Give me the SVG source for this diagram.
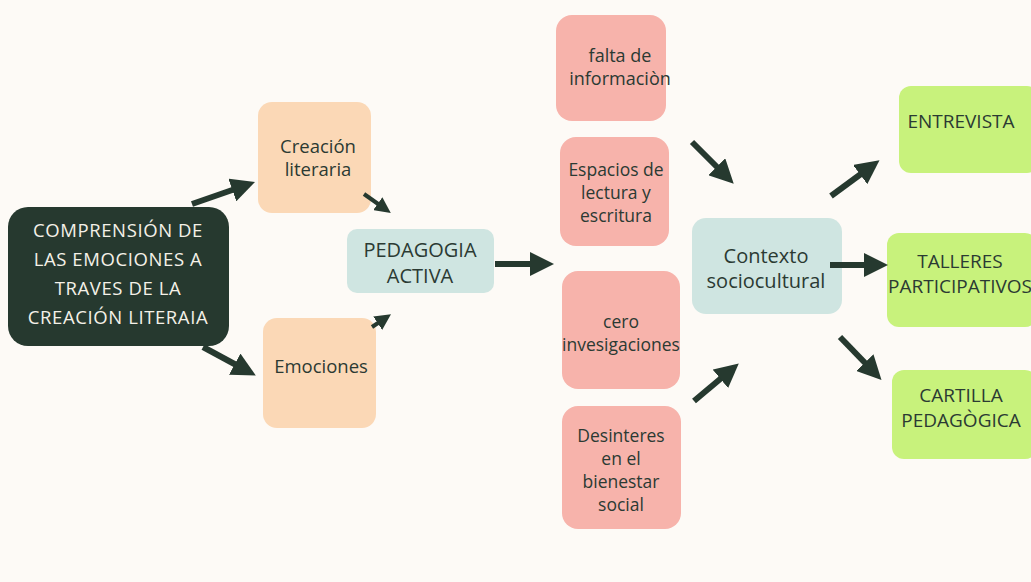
<svg xmlns="http://www.w3.org/2000/svg" width="1031" height="582" viewBox="0 0 1031 582">
<style>
  .t { font-family: "Open Sans", "Liberation Sans", sans-serif; fill: #2b3a33; text-anchor: middle; font-weight: 500; }
  .main { fill: #f4f1e8; font-size: 18.5px; letter-spacing: 0.6px; }
  .peach { fill: #fbd8b6; }
  .teal { fill: #cfe5e1; }
  .pink { fill: #f7b3ab; }
  .green { fill: #c8f27c; }
  .arr { stroke: #26392f; fill: none; stroke-width: 6; }
  .arr.s { stroke-width: 4; }
</style>
<defs>
  <marker id="ah" viewBox="0 0 4 4" markerWidth="4" markerHeight="4" refX="1" refY="2" orient="auto" markerUnits="strokeWidth">
    <path d="M0,0 L4,2 L0,4 Z" fill="#26392f"/>
  </marker>
</defs>
<rect width="1031" height="582" fill="#fdfaf6"/>

<g id="main">
  <rect x="8" y="207" width="221" height="139" rx="20" fill="#26392f"/>
  <text class="t main" x="118" y="237">COMPRENSIÓN DE</text>
  <text class="t main" x="118" y="266">LAS EMOCIONES A</text>
  <text class="t main" x="118" y="295">TRAVES DE LA</text>
  <text class="t main" x="118" y="324">CREACIÓN LITERAIA</text>
</g>

<g id="creacion">
  <rect class="peach" x="258" y="102" width="113" height="111" rx="14"/>
  <text class="t" x="318" y="153" font-size="18.5">Creación</text>
  <text class="t" x="318" y="176" font-size="18.5">literaria</text>
</g>

<g id="emociones">
  <rect class="peach" x="263" y="318" width="113" height="110" rx="14"/>
  <text class="t" x="321" y="373" font-size="18.5">Emociones</text>
</g>

<g id="pedagogia">
  <rect class="teal" x="347" y="229" width="147" height="64" rx="10"/>
  <text class="t" x="420" y="257" font-size="20">PEDAGOGIA</text>
  <text class="t" x="420" y="283" font-size="20">ACTIVA</text>
</g>

<g id="falta">
  <rect class="pink" x="556" y="15" width="110" height="106" rx="16"/>
  <text class="t" x="620" y="62" font-size="18">falta de</text>
  <text class="t" x="620" y="85" font-size="18">informaciòn</text>
</g>

<g id="espacios">
  <rect class="pink" x="560" y="137" width="109" height="109" rx="16"/>
  <text class="t" x="616" y="176" font-size="17.5">Espacios de</text>
  <text class="t" x="616" y="199" font-size="17.5">lectura y</text>
  <text class="t" x="616" y="222" font-size="17.5">escritura</text>
</g>

<g id="cero">
  <rect class="pink" x="562" y="271" width="118" height="118" rx="16"/>
  <text class="t" x="621" y="328" font-size="17.5">cero</text>
  <text class="t" x="621" y="351" font-size="17.5">invesigaciones</text>
</g>

<g id="desinteres">
  <rect class="pink" x="562" y="406" width="119" height="123" rx="16"/>
  <text class="t" x="621" y="442" font-size="17.5">Desinteres</text>
  <text class="t" x="621" y="465" font-size="17.5">en el</text>
  <text class="t" x="621" y="488" font-size="17.5">bienestar</text>
  <text class="t" x="621" y="511" font-size="17.5">social</text>
</g>

<g id="contexto">
  <rect class="teal" x="692" y="218" width="150" height="96" rx="14"/>
  <text class="t" x="766" y="263" font-size="20">Contexto</text>
  <text class="t" x="766" y="288" font-size="20">sociocultural</text>
</g>

<g id="entrevista">
  <rect class="green" x="899" y="86" width="140" height="87" rx="12"/>
  <text class="t" x="961" y="128" font-size="19">ENTREVISTA</text>
</g>

<g id="talleres">
  <rect class="green" x="887" y="233" width="150" height="94" rx="12"/>
  <text class="t" x="960" y="268" font-size="19">TALLERES</text>
  <text class="t" x="960" y="293" font-size="19">PARTICIPATIVOS</text>
</g>

<g id="cartilla">
  <rect class="green" x="892" y="370" width="145" height="89" rx="12"/>
  <text class="t" x="961" y="402" font-size="19">CARTILLA</text>
  <text class="t" x="961" y="427" font-size="19">PEDAGÒGICA</text>
</g>

<g id="connectors">
  <line class="arr" x1="192" y1="204" x2="238" y2="188" marker-end="url(#ah)"/>
  <line class="arr" x1="203" y1="347" x2="240" y2="367" marker-end="url(#ah)"/>
  <line class="arr s" x1="364" y1="194" x2="381" y2="206" marker-end="url(#ah)"/>
  <line class="arr s" x1="372" y1="327" x2="381" y2="321" marker-end="url(#ah)"/>
  <line class="arr" x1="495" y1="264" x2="536" y2="264" marker-end="url(#ah)"/>
  <line class="arr" x1="692" y1="142" x2="721" y2="171" marker-end="url(#ah)"/>
  <line class="arr" x1="694" y1="401" x2="725" y2="375" marker-end="url(#ah)"/>
  <line class="arr" x1="831" y1="196" x2="865" y2="171" marker-end="url(#ah)"/>
  <line class="arr" x1="830" y1="265" x2="870" y2="265" marker-end="url(#ah)"/>
  <line class="arr" x1="840" y1="337" x2="869" y2="367" marker-end="url(#ah)"/>
</g>
</svg>
